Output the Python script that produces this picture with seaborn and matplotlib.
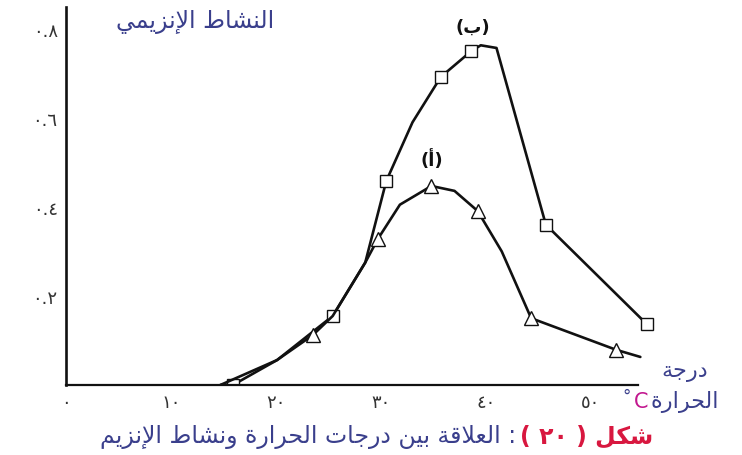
import re
import pandas as pd
import matplotlib
matplotlib.use("Agg")
import matplotlib.pyplot as plt
import seaborn as sns

# curve (ب): squares
temp_b = [14.7, 15.9, 20.1, 25.4, 28.5, 30.5, 33.0, 35.7, 38.6, 39.5, 41.0, 45.7, 55.3]
act_b = [0.0, 0.0, 0.056, 0.155, 0.275, 0.458, 0.590, 0.692, 0.750, 0.763, 0.757, 0.360, 0.137]
marks_b = [1, 3, 5, 7, 8, 11, 12]

# curve (أ): triangles
temp_a = [14.7, 20.1, 23.5, 25.4, 28.5, 29.7, 31.8, 34.8, 37.0, 39.2, 41.5, 44.3, 52.4, 54.7]
act_a = [0.0, 0.056, 0.112, 0.155, 0.275, 0.328, 0.405, 0.447, 0.436, 0.391, 0.300, 0.150, 0.079, 0.063]
marks_a = [2, 5, 7, 9, 11, 12]

x_ticks = [0, 10, 20, 30, 40, 50]
x_labels = ["٠", "١٠", "٢٠", "٣٠", "٤٠", "٥٠"]
y_ticks = [0.2, 0.4, 0.6, 0.8]
y_labels = ["٠.٢", "٠.٤", "٠.٦", "٠.٨"]

# --- minimal arabic shaping (matplotlib has no bidi / joining) ---
FORMS = {
    'ا': ('\uFE8D', '\uFE8E', None, None),
    'أ': ('\uFE83', '\uFE84', None, None),
    'إ': ('\uFE87', '\uFE88', None, None),
    'ب': ('\uFE8F', '\uFE90', '\uFE91', '\uFE92'),
    'ة': ('\uFE93', '\uFE94', None, None),
    'ت': ('\uFE95', '\uFE96', '\uFE97', '\uFE98'),
    'ج': ('\uFE9D', '\uFE9E', '\uFE9F', '\uFEA0'),
    'ح': ('\uFEA1', '\uFEA2', '\uFEA3', '\uFEA4'),
    'د': ('\uFEA9', '\uFEAA', None, None),
    'ر': ('\uFEAD', '\uFEAE', None, None),
    'ز': ('\uFEAF', '\uFEB0', None, None),
    'ش': ('\uFEB5', '\uFEB6', '\uFEB7', '\uFEB8'),
    'ط': ('\uFEC1', '\uFEC2', '\uFEC3', '\uFEC4'),
    'ع': ('\uFEC9', '\uFECA', '\uFECB', '\uFECC'),
    'ق': ('\uFED5', '\uFED6', '\uFED7', '\uFED8'),
    'ك': ('\uFED9', '\uFEDA', '\uFEDB', '\uFEDC'),
    'ل': ('\uFEDD', '\uFEDE', '\uFEDF', '\uFEE0'),
    'م': ('\uFEE1', '\uFEE2', '\uFEE3', '\uFEE4'),
    'ن': ('\uFEE5', '\uFEE6', '\uFEE7', '\uFEE8'),
    'و': ('\uFEED', '\uFEEE', None, None),
    'ي': ('\uFEF1', '\uFEF2', '\uFEF3', '\uFEF4'),
}
LAM_ALEF = {'ا': ('\uFEFB', '\uFEFC'), 'أ': ('\uFEF7', '\uFEF8'), 'إ': ('\uFEF9', '\uFEFA')}


def joins_left(ch):
    return ch in FORMS and FORMS[ch][2] is not None


def shape(text):
    out, i, n = [], 0, len(text)
    while i < n:
        ch = text[i]
        if ch not in FORMS:
            out.append(ch)
            i += 1
            continue
        link_prev = i > 0 and joins_left(text[i - 1])
        if ch == 'ل' and i + 1 < n and text[i + 1] in LAM_ALEF:
            out.append(LAM_ALEF[text[i + 1]][1 if link_prev else 0])
            i += 2
            continue
        link_next = joins_left(ch) and i + 1 < n and text[i + 1] in FORMS
        iso, fin, ini, med = FORMS[ch]
        if link_prev and link_next:
            out.append(med)
        elif link_prev:
            out.append(fin)
        elif link_next:
            out.append(ini)
        else:
            out.append(iso)
        i += 1
    return ''.join(out)


def rtl(text):
    tokens = re.findall(r'[0-9\u0660-\u0669.]+|.', shape(text))
    mirror = {'(': ')', ')': '('}
    return ''.join(mirror.get(t, t) for t in reversed(tokens))


sns.set_style("white")
plt.rcParams['font.family'] = ['DejaVu Sans']

df_b = pd.DataFrame({"temp": temp_b, "activity": act_b})
df_a = pd.DataFrame({"temp": temp_a, "activity": act_a})

fig = plt.figure(figsize=(7.42, 4.56), dpi=100)
ax = fig.add_axes([66 / 742, 70 / 456, 598.5 / 742, 378 / 456])

line_kw = dict(color="#111111", linewidth=1.9, markerfacecolor="white",
               markeredgecolor="#111111", markeredgewidth=1.0, sort=False,
               solid_joinstyle="round", solid_capstyle="round", estimator=None)
sns.lineplot(data=df_b, x="temp", y="activity", marker="s", markersize=9,
             markevery=marks_b, ax=ax, **line_kw)
sns.lineplot(data=df_a, x="temp", y="activity", marker="^", markersize=10,
             markevery=marks_a, ax=ax, **line_kw)

ax.set_xlim(0, 57)
ax.set_ylim(0, 0.849)
ax.set_xlabel("")
ax.set_ylabel("")
for s in ["top", "right"]:
    ax.spines[s].set_visible(False)
ax.spines["left"].set_linewidth(1.9)
ax.spines["bottom"].set_linewidth(1.6)
ax.spines["left"].set_color("#111111")
ax.spines["bottom"].set_color("#111111")
ax.spines["bottom"].set_bounds(0, 54.5)

ax.set_yticks(y_ticks)
ax.set_yticklabels(y_labels)
ax.set_xticks(x_ticks)
ax.set_xticklabels(x_labels)
ax.tick_params(axis="y", direction="in", length=10, width=1.9, pad=6,
               labelsize=13, labelcolor="#333333", color="#111111")
ax.tick_params(axis="x", direction="in", length=6, width=1.6, pad=6,
               labelsize=13, labelcolor="#333333", color="#111111")
for t in ax.xaxis.get_major_ticks()[:2]:
    t.tick1line.set_visible(False)

ax.text(38.7, 0.804, rtl("(ب)"), ha="center", va="center", fontsize=13,
        fontweight="bold", color="#111111")
ax.text(34.8, 0.508, rtl("(أ)"), ha="center", va="center", fontsize=13,
        fontweight="bold", color="#111111")

blue = "#3a3f8c"
fig.text(195 / 742, 1 - 22 / 456, rtl("النشاط الإنزيمي"), ha="center", va="center",
         fontsize=17, color=blue)
fig.text(685 / 742, 1 - 372 / 456, rtl("درجة"), ha="center", va="center",
         fontsize=16, color=blue)
fig.text(650 / 742, 1 - 402 / 456, rtl("الحرارة"), ha="left", va="center",
         fontsize=16, color=blue)
fig.text(648 / 742, 1 - 402 / 456, "C", ha="right", va="center",
         fontsize=15, color="#c2188f")
fig.text(631 / 742, 1 - 397 / 456, "°", ha="right", va="center",
         fontsize=12, color=blue)

fig.text(516 / 742, 1 - 437 / 456, rtl(": العلاقة بين درجات الحرارة ونشاط الإنزيم"),
         ha="right", va="center", fontsize=17, color=blue)
fig.text(520 / 742, 1 - 437 / 456, rtl("شكل ( ٢٠ )"), ha="left", va="center",
         fontsize=17, color="#d8173f", fontweight="bold")

fig.savefig("out.png", dpi=100)
